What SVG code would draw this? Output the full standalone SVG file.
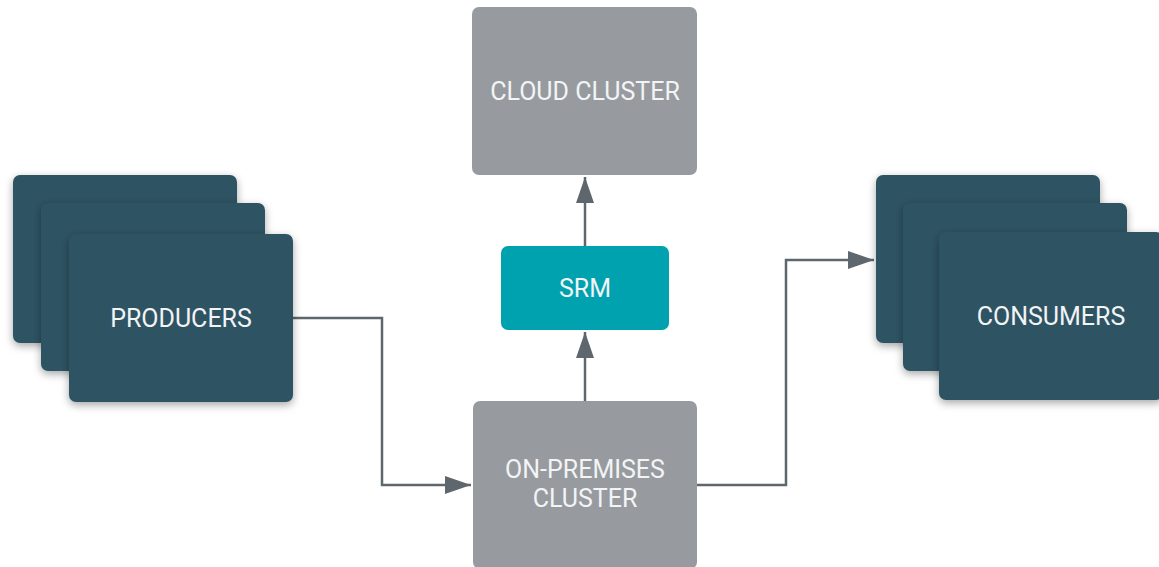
<svg xmlns="http://www.w3.org/2000/svg" width="1159" height="567" viewBox="0 0 1159 567">
<style>
.card{fill:#2e5363;filter:url(#sh)}
.gray{fill:#979b9f}
.srm{fill:#01a2b0}
.t{font-family:Roboto,"Liberation Sans",sans-serif;font-size:25px;fill:#f2f4f5;text-anchor:middle}
.c{fill:none;stroke:#5d676d;stroke-width:2.5}
</style>
<defs>
<filter id="sh" x="-20%" y="-20%" width="140%" height="150%">
<feDropShadow dx="0" dy="3" stdDeviation="4" flood-color="#000" flood-opacity="0.35"/>
</filter>
<marker id="a" viewBox="0 0 26 18" refX="26" refY="9" markerWidth="26" markerHeight="18" orient="auto" markerUnits="userSpaceOnUse">
<path d="M0,0 L26,9 L0,18 Z" fill="#5d676d"/>
</marker>
</defs>
<rect width="1159" height="567" fill="#ffffff"/>
<g id="connectors">
<path class="c" d="M293,318 H382 V485 H471" marker-end="url(#a)"/>
<path class="c" d="M585,401 V332" marker-end="url(#a)"/>
<path class="c" d="M585,246 V177" marker-end="url(#a)"/>
<path class="c" d="M697,485 H786 V260 H874" marker-end="url(#a)"/>
</g>
<g id="producers">
<rect class="card" x="13" y="175" width="224" height="168" rx="7"/>
<rect class="card" x="41" y="203" width="224" height="168" rx="7"/>
<rect class="card" x="69" y="234" width="224" height="168" rx="7"/>
<text class="t" x="181" y="327">PRODUCERS</text>
</g>
<g id="consumers">
<rect class="card" x="876" y="175" width="224" height="168" rx="7"/>
<rect class="card" x="903" y="203" width="224" height="168" rx="7"/>
<rect class="card" x="939" y="232" width="224" height="168" rx="7"/>
<text class="t" x="1051" y="325">CONSUMERS</text>
</g>
<g id="cloud">
<rect class="gray" x="472" y="7" width="225" height="168" rx="7"/>
<text class="t" x="585" y="100">CLOUD CLUSTER</text>
</g>
<g id="srm">
<rect class="srm" x="501" y="246" width="168" height="84" rx="7"/>
<text class="t" x="585" y="297">SRM</text>
</g>
<g id="onprem">
<rect class="gray" x="473" y="401" width="224" height="168" rx="7"/>
<text class="t" x="585" y="478">ON-PREMISES</text>
<text class="t" x="585" y="507">CLUSTER</text>
</g>
</svg>
